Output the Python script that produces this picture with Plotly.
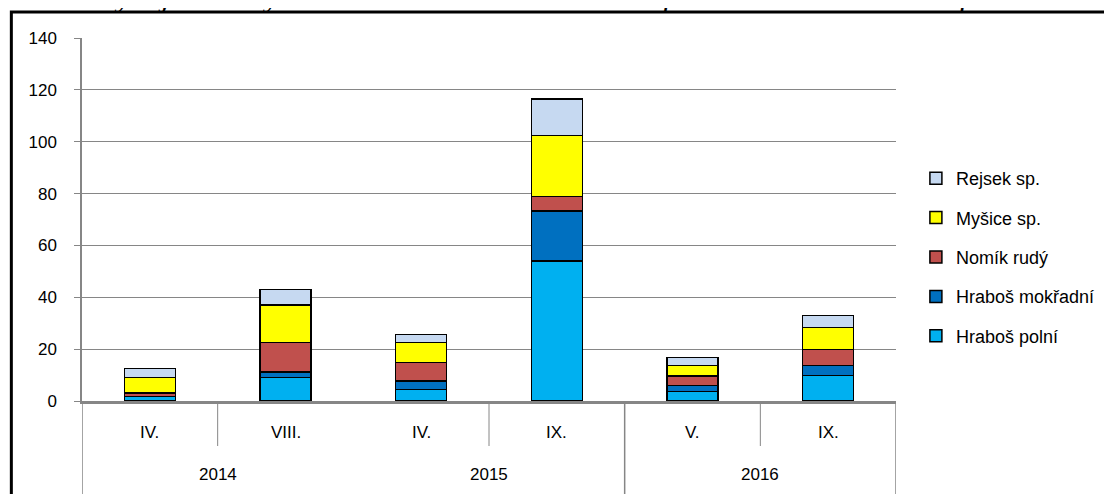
import plotly.graph_objects as go

# ---- data ----
years = ["2014", "2014", "2015", "2015", "2016", "2016"]
months = ["IV.", "VIII.", "IV.", "IX.", "V.", "IX."]
series_names = ["Hraboš polní", "Hraboš mokřadní", "Nomík rudý", "Myšice sp.", "Rejsek sp."]
hrabos_polni = [1.7, 9.1, 4.5, 54.0, 3.6, 9.8]
hrabos_mokradni = [0.0, 2.0, 3.3, 19.3, 2.3, 3.8]
nomik_rudy = [1.3, 11.5, 7.1, 5.5, 3.7, 6.2]
mysice = [6.0, 14.5, 7.7, 23.6, 4.0, 8.5]
rejsek = [3.5, 6.0, 3.1, 14.0, 3.1, 4.6]
y_ticks = [0, 20, 40, 60, 80, 100, 120, 140]
caption = "Obr. 6: Vývoj nabídky základní kořisti sov v těsném prostředí Javořích hor podle abundance"

colors = ["#00B0F0", "#0070C0", "#C0504D", "#FFFF00", "#C6D9F1"]
values = [hrabos_polni, hrabos_mokradni, nomik_rudy, mysice, rejsek]

# geometry: page shows the figure with an 8px body offset
OFF = 8
W, H = 1112 - OFF, 494 - OFF
# plot area in screen pixels
SL, SR, ST, SB = 82, 900, 38, 401
ML, MT = SL - OFF, ST - OFF
MR, MB = W - (SR - OFF), H - (SB - OFF)
PW = SR - SL
PH = SB - ST

def px_x(s):
    return (s - SL) / PW

def px_y(s):
    return (SB - s) / PH

FONT = "Liberation Sans, Arial, sans-serif"
GRAY = "#868686"

x_idx = list(range(len(months)))
n = len(series_names)

fig = go.Figure()
for k, (name, vals, col) in enumerate(zip(series_names, values, colors)):
    fig.add_trace(go.Bar(
        x=x_idx, y=vals, name=name,
        marker=dict(color=col, line=dict(color="black", width=1.5)),
        legendgroup=name, legendrank=n - k,
        width=0.375,
    ))

shapes = []
annotations = []

# month labels
for i, m in enumerate(months):
    annotations.append(dict(x=i, y=px_y(432), xref="x", yref="paper", text=m,
                            showarrow=False, font=dict(family=FONT, size=17, color="black"),
                            xanchor="center", yanchor="middle"))
# year labels centred on groups
uniq_years = []
for y in years:
    if y not in uniq_years:
        uniq_years.append(y)
for yr in uniq_years:
    idx = [i for i, v in enumerate(years) if v == yr]
    cx = (idx[0] + idx[-1]) / 2
    annotations.append(dict(x=cx, y=px_y(474), xref="x", yref="paper", text=yr,
                            showarrow=False, font=dict(family=FONT, size=17, color="black"),
                            xanchor="center", yanchor="middle"))

# dividers as drawn in the original (short within groups, long at end of 2015 and 2016)
for yr in uniq_years:
    idx = [i for i, v in enumerate(years) if v == yr]
    mid = (idx[0] + idx[-1]) / 2
    shapes.append(dict(type="line", xref="x", yref="paper", x0=mid, x1=mid,
                       y0=0, y1=px_y(446), line=dict(color=GRAY, width=1)))
for b in [3.5, 5.5]:
    shapes.append(dict(type="line", xref="x", yref="paper", x0=b, x1=b,
                       y0=0, y1=px_y(520), line=dict(color=GRAY, width=1.5)))
# y-axis line extension below
shapes.append(dict(type="line", xref="x", yref="paper", x0=-0.5, x1=-0.5,
                   y0=0, y1=px_y(520), line=dict(color=GRAY, width=1.5)))
# outer frame
shapes.append(dict(type="rect", xref="paper", yref="paper",
                   x0=px_x(11), x1=px_x(1200), y0=px_y(560), y1=px_y(12),
                   line=dict(color="black", width=3), fillcolor="rgba(0,0,0,0)"))

# caption, cut off at top
annotations.append(dict(x=px_x(-3), y=px_y(19), xref="paper", yref="paper",
                        text="<i>" + caption + "</i>", showarrow=False, yshift=4,
                        font=dict(family="Liberation Serif, Times New Roman, serif", size=32, color="black"),
                        xanchor="left", yanchor="bottom"))

fig.update_layout(
    width=W, height=H,
    margin=dict(l=ML, r=MR, t=MT, b=MB, pad=0),
    paper_bgcolor="white", plot_bgcolor="white",
    barmode="stack", bargap=0.625,
    font=dict(family=FONT, size=17, color="black"),
    xaxis=dict(range=[-0.5, 5.5], showticklabels=False, ticks="", showgrid=False,
               showline=True, linecolor=GRAY, linewidth=2.5, zeroline=False, fixedrange=True),
    yaxis=dict(range=[0, 140], tickvals=y_ticks, ticktext=[str(v) for v in y_ticks],
               showgrid=True, gridcolor=GRAY, gridwidth=1.3, showline=True, linecolor=GRAY,
               linewidth=1.5, ticks="outside", ticklen=6, tickcolor=GRAY, tickwidth=1.3,
               zeroline=False, tickfont=dict(family=FONT, size=17, color="black"), ticklabelstandoff=14),
    legend=dict(x=px_x(920), y=px_y(160), xanchor="left", yanchor="top",
                traceorder="grouped", tracegroupgap=13,
                font=dict(family=FONT, size=18, color="black"), bgcolor="rgba(0,0,0,0)"),
    shapes=shapes,
    annotations=annotations,
)

fig.write_html("out.html")
